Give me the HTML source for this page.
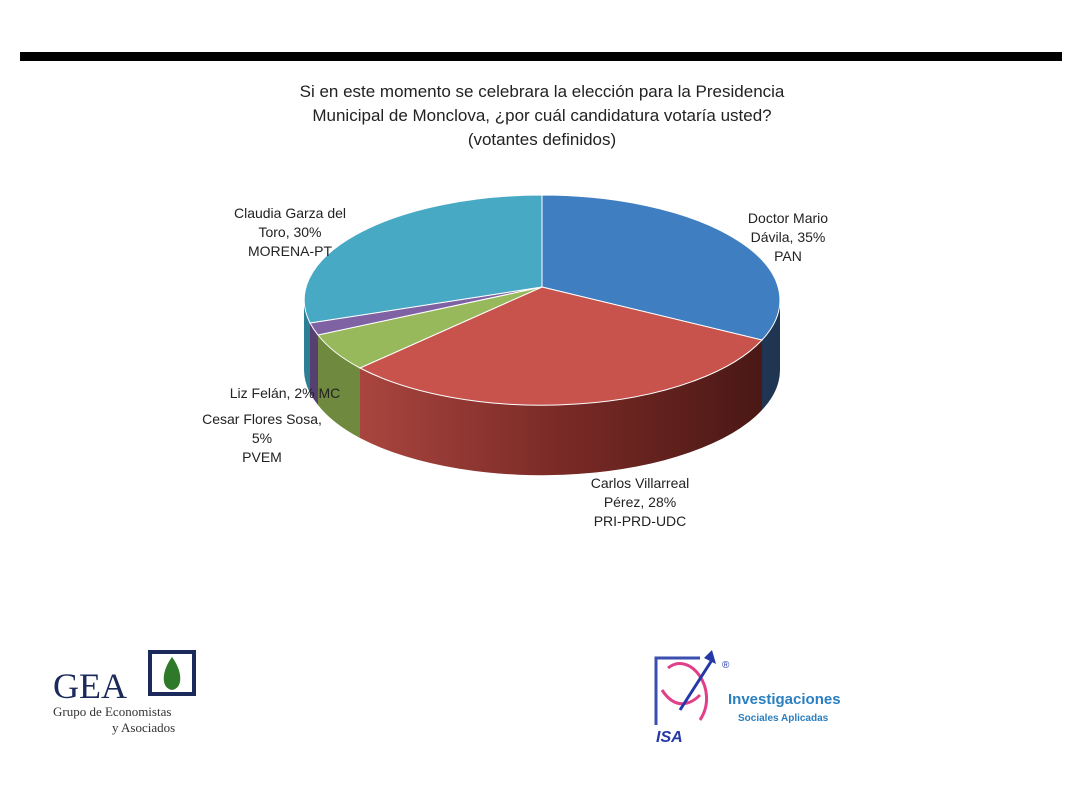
<!DOCTYPE html>
<html><head><meta charset="utf-8"><style>
body{margin:0;background:#fff;width:1078px;height:780px;overflow:hidden;font-family:"Liberation Sans",sans-serif}
</style></head><body>
<svg width="1078" height="780" xmlns="http://www.w3.org/2000/svg" font-family="Liberation Sans, sans-serif">
<defs>
<linearGradient id="rs" x1="0" x2="1" y1="0" y2="0">
<stop offset="0" stop-color="#a9453f"/><stop offset="0.5" stop-color="#7a2a26"/><stop offset="1" stop-color="#4a1815"/></linearGradient>
</defs>
<rect x="20" y="52" width="1042" height="9" fill="#000"/>
<g font-size="17" fill="#222" text-anchor="middle">
<text x="542" y="97">Si en este momento se celebrara la elección para la Presidencia</text>
<text x="542" y="121">Municipal de Monclova, ¿por cuál  candidatura votaría usted?</text>
<text x="542" y="145">(votantes definidos)</text>
</g>
<!-- sides -->
<path d="M780,300 A238,105 0 0 1 762,340 L762,410 A238,105 0 0 0 780,370 Z" fill="#1f3552"/>
<path d="M762,340 A238,105 0 0 1 360,368 L360,438 A238,105 0 0 0 762,410 Z" fill="url(#rs)"/>
<path d="M360,368 A238,105 0 0 1 318,335 L318,405 A238,105 0 0 0 360,438 Z" fill="#6f8a3e"/>
<path d="M318,335 A238,105 0 0 1 310,323 L310,393 A238,105 0 0 0 318,405 Z" fill="#55406f"/>
<path d="M310,323 A238,105 0 0 1 304,300 L304,370 A238,105 0 0 0 310,393 Z" fill="#2d7f95"/>
<!-- top -->
<g stroke="#fff" stroke-width="1">
<path d="M542,287 L542,195 A238,105 0 0 1 762,340 Z" fill="#3f7ec0"/>
<path d="M542,287 L762,340 A238,105 0 0 1 360,368 Z" fill="#c8534d"/>
<path d="M542,287 L360,368 A238,105 0 0 1 318,335 Z" fill="#97b95c"/>
<path d="M542,287 L318,335 A238,105 0 0 1 310,323 Z" fill="#7e62a3"/>
<path d="M542,287 L310,323 A238,105 0 0 1 542,195 Z" fill="#48a9c5"/>
</g>
<g font-size="14" fill="#222" text-anchor="middle">
<text x="290" y="218">Claudia Garza del</text><text x="290" y="237">Toro, 30%</text><text x="290" y="256">MORENA-PT</text>
<text x="788" y="223">Doctor Mario</text><text x="788" y="242">Dávila, 35%</text><text x="788" y="261">PAN</text>
<text x="285" y="398">Liz Felán, 2% MC</text>
<text x="262" y="424">Cesar Flores Sosa,</text><text x="262" y="443">5%</text><text x="262" y="462">PVEM</text>
<text x="640" y="488">Carlos Villarreal</text><text x="640" y="507">Pérez, 28%</text><text x="640" y="526">PRI-PRD-UDC</text>
</g>
<!-- GEA logo -->
<text x="53" y="698" font-family="Liberation Serif, serif" font-size="36" fill="#1b2a5a">GEA</text>
<rect x="148" y="650" width="48" height="46" fill="#1b2a5a"/>
<path d="M152,654 L192,654 L192,692 L152,692 Z" fill="#fff"/>
<path d="M172,657 C162,670 160,688 172,690 C184,688 182,670 172,657 Z" fill="#2f7a2a"/>
<text x="53" y="716" font-family="Liberation Serif, serif" font-size="13" fill="#333">Grupo de Economistas</text>
<text x="112" y="732" font-family="Liberation Serif, serif" font-size="13" fill="#333">y Asociados</text>
<!-- ISA logo -->
<path d="M656,725 L656,658 L700,658" fill="none" stroke="#3a4fb0" stroke-width="3"/>
<path d="M668,668 C690,650 720,690 700,720 M662,690 C675,710 690,705 700,695" fill="none" stroke="#e0408a" stroke-width="3"/>
<line x1="680" y1="710" x2="712" y2="660" stroke="#2438a8" stroke-width="3"/>
<path d="M712,650 L716,664 L704,658 Z" fill="#2438a8"/>
<text x="656" y="742" font-size="16" font-style="italic" font-weight="bold" fill="#2438a8">ISA</text>
<text x="722" y="668" font-size="10" fill="#2438a8">®</text>
<text x="728" y="704" font-size="15" font-weight="bold" fill="#2a7fc0">Investigaciones</text>
<text x="738" y="721" font-size="10" font-weight="bold" fill="#2a7fc0">Sociales Aplicadas</text>
</svg>
</body></html>
